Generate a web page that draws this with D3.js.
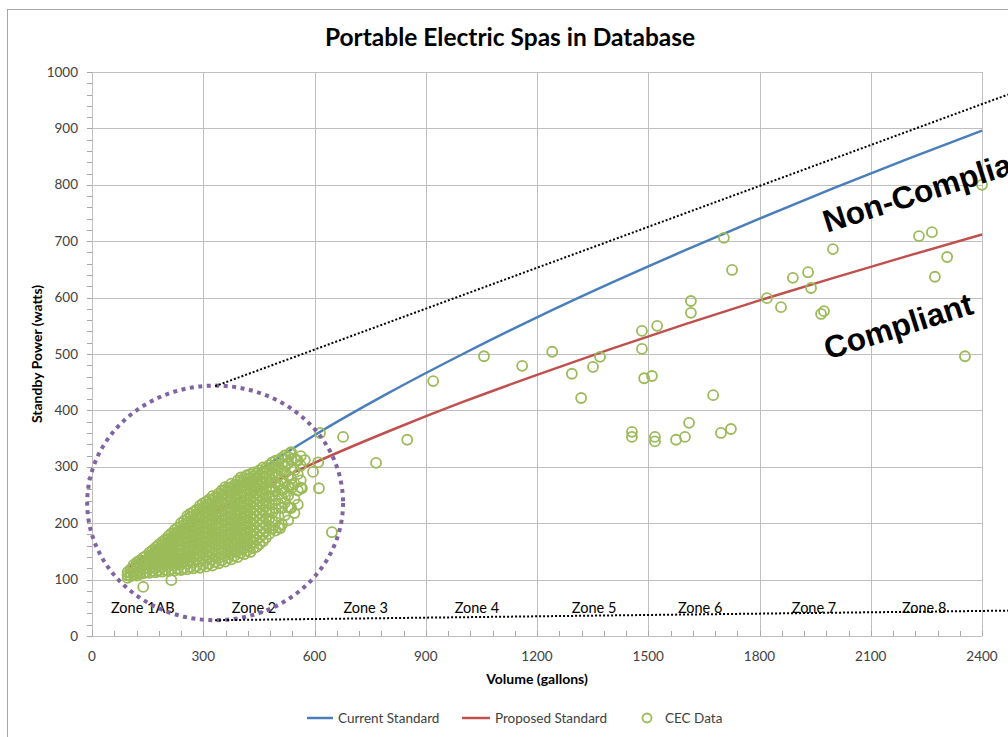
<!DOCTYPE html>
<html lang="en">
<head>
<meta charset="UTF-8" />
<title>Portable Electric Spas in Database</title>
<script src="https://d3js.org/d3.v7.min.js"></script>
<style>
  body { margin: 0; background: #fff; }
  svg { display: block; font-family: Lato, "Liberation Sans", sans-serif; }
  .grid line { stroke: #bfbfbf; stroke-width: 1px; shape-rendering: crispEdges; }
  .tick-mark { stroke: #a6a6a6; stroke-width: 1px; shape-rendering: crispEdges; }
  .tick-label { font-size: 13.5px; fill: #404040; }
  .axis-title { font-size: 14px; font-weight: bold; fill: #000; }
  .zone { font-size: 14.5px; fill: #000; text-anchor: middle; }
  .std { fill: none; stroke-width: 2.5px; }
  .cec { fill: none; stroke: #9bbb59; stroke-width: 1.8px; }
  .note { font-family: "Liberation Sans", Arial, sans-serif; font-size: 31.5px; font-weight: bold; fill: #000; }
  .legend text { font-size: 13.5px; fill: #404040; }
</style>
</head>
<body>
<svg width="1008" height="737"></svg>
<script>
const stdVolume   = [100, 150, 200, 300, 400, 500, 600, 800, 1000, 1200, 1400, 1600, 1800, 2000, 2200, 2400];
const currentStd  = [108, 141, 171, 224, 271, 315, 356, 431, 500, 565, 626, 684, 740, 794, 846, 896];
const proposedStd = [121, 146, 168, 208, 244, 276, 307, 363, 415, 463, 509, 553, 595, 635, 674, 712];

// CEC data, larger spas (read one by one)
const cecVolume = [615, 677, 647, 610, 596, 612, 574, 566, 552, 534, 539, 507, 488, 534, 515,
  766, 850, 920, 1057, 1160, 1241, 1294, 1319, 1351, 1370, 1456, 1456, 1483, 1483, 1489, 1510, 1524,
  1518, 1518, 1575, 1599, 1610, 1675, 1696, 1723, 1704, 1726, 1615, 1615, 1820, 1858, 1890, 1931,
  1939, 1966, 1974, 1998, 2230, 2265, 2273, 2306, 2354, 2400];
const cecPower = [360, 353, 184, 308, 291, 262, 312, 262, 312, 324, 268, 191, 191, 227, 259,
  307, 348, 452, 496, 479, 504, 465, 422, 477, 495, 362, 353, 541, 509, 457, 461, 550,
  353, 345, 348, 353, 378, 427, 360, 367, 706, 649, 594, 573, 599, 583, 635, 645,
  617, 571, 576, 686, 709, 716, 637, 672, 496, 800];

// CEC data, dense cloud of small spas: [volume, powers at that volume]
const cecCluster = [
  [96, [103, 108, 113]],
  [104, [106, 112, 118]],
  [112, [108, 114, 121, 126]],
  [121, [107, 113, 119, 125, 131]],
  [129, [110, 116, 123, 129, 134]],
  [138, [87, 111, 118, 126, 133, 139]],
  [146, [113, 120, 128, 135, 142]],
  [155, [112, 119, 127, 134, 141, 148]],
  [163, [115, 123, 130, 138, 145, 152]],
  [172, [113, 121, 129, 137, 144, 151, 157]],
  [180, [116, 124, 132, 140, 147, 155, 162]],
  [189, [114, 122, 131, 139, 147, 154, 161, 167]],
  [197, [117, 126, 134, 142, 150, 158, 165, 171]],
  [206, [115, 124, 133, 141, 149, 157, 164, 171, 177]],
  [214, [99, 118, 127, 136, 144, 152, 160, 168, 175, 182]],
  [223, [116, 125, 134, 143, 151, 159, 167, 174, 181, 188]],
  [231, [119, 128, 137, 146, 154, 162, 170, 178, 185, 192]],
  [240, [117, 127, 136, 145, 154, 162, 171, 179, 187, 194, 200]],
  [248, [120, 130, 139, 148, 157, 166, 174, 182, 190, 197, 204]],
  [257, [118, 128, 138, 147, 156, 165, 174, 183, 191, 199, 207, 213]],
  [265, [122, 132, 141, 151, 160, 169, 178, 187, 195, 203, 211, 217]],
  [274, [120, 130, 140, 150, 159, 168, 177, 186, 195, 204, 212, 220]],
  [282, [124, 134, 144, 154, 163, 172, 181, 190, 199, 208, 216, 224]],
  [291, [121, 132, 142, 152, 161, 171, 180, 189, 198, 207, 216, 224, 231]],
  [299, [126, 136, 146, 156, 166, 175, 184, 193, 202, 211, 220, 228, 235]],
  [308, [123, 134, 144, 155, 165, 174, 184, 193, 202, 212, 221, 229, 238]],
  [316, [128, 139, 149, 159, 169, 179, 188, 198, 207, 216, 225, 234, 242]],
  [325, [125, 136, 147, 157, 167, 177, 187, 197, 206, 215, 224, 233, 241, 248]],
  [333, [131, 141, 152, 162, 172, 182, 192, 201, 211, 220, 229, 238, 246]],
  [342, [129, 139, 150, 161, 171, 181, 191, 201, 210, 220, 229, 238, 246, 253]],
  [350, [134, 145, 155, 166, 176, 186, 196, 206, 215, 225, 234, 243, 251, 258]],
  [359, [132, 143, 153, 164, 175, 185, 195, 205, 214, 224, 233, 242, 251, 259, 264]],
  [367, [138, 149, 159, 170, 180, 190, 200, 210, 220, 229, 238, 247, 256, 263]],
  [376, [136, 147, 157, 168, 179, 189, 199, 209, 219, 228, 238, 247, 256, 264, 270]],
  [384, [142, 153, 164, 174, 185, 195, 205, 215, 224, 234, 243, 252, 261, 268]],
  [393, [140, 151, 162, 172, 183, 193, 203, 213, 223, 233, 242, 251, 260, 268, 276]],
  [401, [147, 158, 168, 179, 189, 199, 209, 219, 229, 238, 248, 257, 266, 274, 281]],
  [410, [145, 156, 167, 177, 188, 198, 208, 218, 228, 237, 247, 256, 265, 273, 280]],
  [418, [151, 162, 173, 183, 193, 203, 213, 223, 233, 242, 252, 261, 270, 278, 285]],
  [427, [149, 160, 171, 182, 192, 202, 212, 222, 232, 242, 251, 261, 270, 279, 287]],
  [435, [156, 167, 178, 188, 198, 208, 218, 228, 238, 247, 257, 266, 275, 283, 290]],
  [444, [158, 170, 181, 192, 202, 213, 223, 233, 243, 253, 262, 272, 281, 289]],
  [452, [163, 175, 186, 197, 207, 217, 228, 238, 248, 258, 267, 276, 285, 294]],
  [461, [168, 180, 191, 202, 213, 223, 234, 244, 253, 263, 272, 282, 291, 299]],
  [469, [174, 186, 198, 209, 220, 231, 241, 251, 261, 271, 281, 290, 298]],
  [478, [181, 195, 208, 222, 235, 247, 260, 272, 283, 294, 303]],
  [486, [191, 204, 219, 233, 248, 262, 276, 289, 300, 308]],
  [495, [187, 202, 226, 241, 257, 272, 287, 299, 311]],
  [503, [193, 212, 234, 251, 268, 284, 297, 312]],
  [512, [198, 227, 245, 259, 278, 293, 305, 316]],
  [520, [214, 236, 255, 271, 289, 302, 320]],
  [529, [205, 228, 249, 266, 284, 306, 318]],
  [537, [227, 262, 279, 296, 313, 326]],
  [546, [218, 243, 270, 294, 315]],
  [555, [233, 258, 287, 311]],
  [563, [263, 276, 302, 319]]
];

const xTickValues = [0, 300, 600, 900, 1200, 1500, 1800, 2100, 2400];
const yTickValues = [0, 100, 200, 300, 400, 500, 600, 700, 800, 900, 1000];
const zoneNames = ["Zone 1AB", "Zone 2", "Zone 3", "Zone 4", "Zone 5", "Zone 6", "Zone 7", "Zone 8"];
const zoneAt = [137, 437, 738, 1038, 1354, 1640, 1947, 2244];

const svg = d3.select("svg");
const x = d3.scaleLinear().domain([0, 2400]).range([92, 982]);
const y = d3.scaleLinear().domain([0, 1000]).range([636, 72]);

// chart frame
svg.append("rect")
  .attr("x", 7.5).attr("y", 9.5).attr("width", 1100).attr("height", 800)
  .attr("fill", "none").attr("stroke", "#a6a6a6");

svg.append("text")
  .attr("x", 510).attr("y", 46)
  .attr("text-anchor", "middle")
  .style("font-size", "24.5px").style("font-weight", "bold")
  .text("Portable Electric Spas in Database");

// grid
const grid = svg.append("g").attr("class", "grid");
grid.selectAll(".gx").data(xTickValues).join("line")
  .attr("x1", d => x(d) + 0.5).attr("x2", d => x(d) + 0.5)
  .attr("y1", y(0)).attr("y2", y(1000));
grid.selectAll(".gy").data(yTickValues).join("line")
  .attr("x1", x(0)).attr("x2", x(2400))
  .attr("y1", d => y(d) + 0.5).attr("y2", d => y(d) + 0.5);

// minor ticks
const xMinor = d3.range(0, 2401, 60);
const yMinor = d3.range(0, 1001, 20);
svg.append("g").selectAll("line").data(xMinor).join("line")
  .attr("class", "tick-mark")
  .attr("x1", d => x(d) + 0.5).attr("x2", d => x(d) + 0.5)
  .attr("y1", y(0)).attr("y2", y(0) - 5);
svg.append("g").selectAll("line").data(yMinor).join("line")
  .attr("class", "tick-mark")
  .attr("x1", x(0) - 5).attr("x2", x(0))
  .attr("y1", d => y(d) + 0.5).attr("y2", d => y(d) + 0.5);

svg.selectAll(".xl").data(xTickValues).join("text")
  .attr("class", "tick-label")
  .attr("x", d => x(d)).attr("y", y(0) + 25)
  .attr("text-anchor", "middle")
  .text(d => d);
svg.selectAll(".yl").data(yTickValues).join("text")
  .attr("class", "tick-label")
  .attr("x", 78).attr("y", d => y(d) + 4.5)
  .attr("text-anchor", "end")
  .text(d => d);

svg.append("text").attr("class", "axis-title")
  .attr("x", 537).attr("y", 684).attr("text-anchor", "middle")
  .text("Volume (gallons)");
svg.append("text").attr("class", "axis-title")
  .attr("transform", "translate(42,354) rotate(-90)")
  .attr("text-anchor", "middle")
  .text("Standby Power (watts)");

// zone labels
svg.selectAll(".zone").data(zoneNames).join("text")
  .attr("class", "zone")
  .attr("x", (d, i) => x(zoneAt[i])).attr("y", y(40))
  .text(d => d);

// standard curves
const line = d3.line()
  .x((d, i) => x(stdVolume[i]))
  .y(d => y(d))
  .curve(d3.curveMonotoneX);
svg.append("path").attr("class", "std").attr("stroke", "#4a7ebb").attr("d", line(currentStd));
svg.append("path").attr("class", "std").attr("stroke", "#c0504d").attr("d", line(proposedStd));

// CEC points
const points = [];
cecCluster.forEach(([v, ps]) => ps.forEach(p => points.push([v, p])));
cecVolume.forEach((v, i) => points.push([v, cecPower[i]]));
svg.append("g").selectAll("circle").data(points).join("circle")
  .attr("class", "cec")
  .attr("cx", d => x(d[0])).attr("cy", d => y(d[1]))
  .attr("r", 5);

// annotations
svg.append("ellipse")
  .attr("cx", x(332)).attr("cy", y(236))
  .attr("rx", x(345) - x(0)).attr("ry", y(0) - y(208))
  .attr("fill", "none").attr("stroke", "#8064a2")
  .attr("stroke-width", 4).attr("stroke-dasharray", "4,4.5");

svg.append("line")
  .attr("x1", x(332)).attr("y1", y(443)).attr("x2", x(2470)).attr("y2", y(960))
  .attr("stroke", "#000").attr("stroke-width", 2).attr("stroke-dasharray", "2,2");
svg.append("line")
  .attr("x1", x(332)).attr("y1", y(28)).attr("x2", x(2470)).attr("y2", y(45))
  .attr("stroke", "#000").attr("stroke-width", 2).attr("stroke-dasharray", "2,2");

svg.append("text").attr("class", "note")
  .attr("transform", `translate(${x(1982)},${y(715)}) rotate(-17.5)`)
  .text("Non-Compliant");
svg.append("text").attr("class", "note")
  .attr("transform", `translate(${x(1985)},${y(490)}) rotate(-17.5)`)
  .text("Compliant");

// legend
const legend = svg.append("g").attr("class", "legend");
legend.append("line").attr("x1", 307).attr("x2", 333).attr("y1", 718).attr("y2", 718)
  .attr("stroke", "#4a7ebb").attr("stroke-width", 2.5);
legend.append("text").attr("x", 338).attr("y", 722.5).text("Current Standard");
legend.append("line").attr("x1", 462).attr("x2", 490).attr("y1", 718).attr("y2", 718)
  .attr("stroke", "#c0504d").attr("stroke-width", 2.5);
legend.append("text").attr("x", 495).attr("y", 722.5).text("Proposed Standard");
legend.append("circle").attr("class", "cec").attr("cx", 647).attr("cy", 718).attr("r", 4.5)
  .attr("stroke-width", 1);
legend.append("text").attr("x", 665).attr("y", 722.5).text("CEC Data");
</script>
</body>
</html>
